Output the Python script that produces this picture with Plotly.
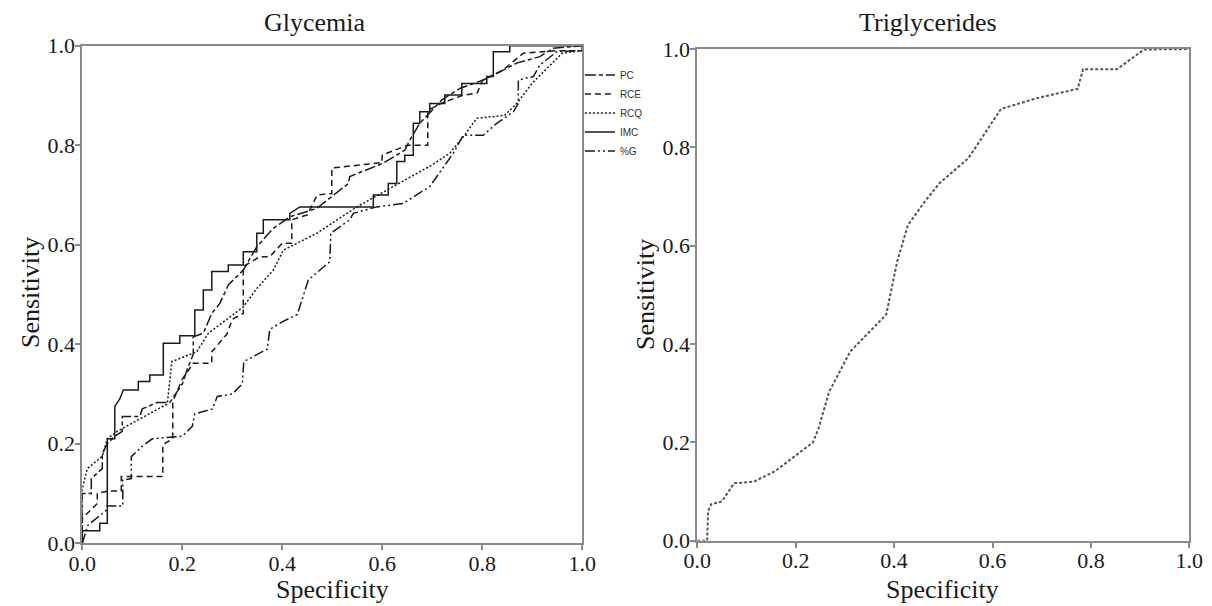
import plotly.graph_objects as go

# ROC curves (x = specificity axis, y = sensitivity)
PC_X = [0, 0, 0.018, 0.018, 0.04, 0.04, 0.05, 0.065, 0.08, 0.08, 0.115, 0.12, 0.15, 0.175,
        0.2, 0.21, 0.222, 0.222, 0.242, 0.259, 0.275, 0.292, 0.322, 0.349, 0.382, 0.415,
        0.469, 0.532, 0.535, 0.602, 0.645, 0.655, 0.675, 0.719, 0.755, 0.802, 0.842, 0.869,
        0.915, 0.942, 1.0]
PC_Y = [0, 0.10, 0.10, 0.13, 0.15, 0.18, 0.20, 0.215, 0.225, 0.255, 0.255, 0.27, 0.283, 0.283,
        0.32, 0.35, 0.38, 0.415, 0.422, 0.462, 0.482, 0.519, 0.549, 0.596, 0.633, 0.656,
        0.673, 0.723, 0.737, 0.764, 0.79, 0.81, 0.844, 0.891, 0.914, 0.931, 0.951, 0.965,
        0.978, 0.995, 1.0]

RCE_X = [0, 0, 0.03, 0.03, 0.051, 0.078, 0.078, 0.161, 0.161, 0.181, 0.181, 0.2, 0.222, 0.259,
         0.259, 0.289, 0.3, 0.322, 0.322, 0.355, 0.375, 0.4, 0.419, 0.419, 0.45, 0.47, 0.499,
         0.499, 0.599, 0.6, 0.65, 0.691, 0.691, 0.72, 0.76, 0.79, 0.80, 0.84, 0.882, 0.95,
         1.0, 1.0]
RCE_Y = [0, 0.05, 0.08, 0.10, 0.105, 0.105, 0.134, 0.134, 0.198, 0.21, 0.285, 0.33, 0.362, 0.362,
         0.385, 0.42, 0.45, 0.462, 0.556, 0.576, 0.576, 0.603, 0.603, 0.65, 0.66, 0.70, 0.703,
         0.754, 0.765, 0.78, 0.80, 0.80, 0.87, 0.885, 0.90, 0.905, 0.93, 0.95, 0.985, 0.99,
         0.99, 1.0]

RCQ_X = [0, 0, 0.01, 0.04, 0.05, 0.07, 0.17, 0.179, 0.229, 0.252, 0.322, 0.349, 0.382, 0.402,
         0.469, 0.549, 0.622, 0.699, 0.735, 0.762, 0.789, 0.845, 0.87, 0.9, 0.93, 0.96, 1.0, 1.0]
RCQ_Y = [0, 0.11, 0.15, 0.175, 0.21, 0.225, 0.28, 0.365, 0.385, 0.422, 0.475, 0.512, 0.549, 0.589,
         0.623, 0.676, 0.717, 0.76, 0.784, 0.817, 0.854, 0.86, 0.885, 0.925, 0.955, 0.985, 0.99, 1.0]

IMC_X = [0, 0, 0.035, 0.035, 0.05, 0.05, 0.065, 0.065, 0.075, 0.082,
         0.112, 0.112, 0.135, 0.135, 0.162, 0.162, 0.195, 0.195, 0.225, 0.225,
         0.242, 0.242, 0.259, 0.259, 0.292, 0.292, 0.322, 0.322, 0.349, 0.349,
         0.362, 0.362, 0.415, 0.415, 0.435, 0.582, 0.582, 0.612, 0.612, 0.629,
         0.629, 0.645, 0.645, 0.662, 0.662, 0.675, 0.675, 0.695, 0.695, 0.725,
         0.725, 0.759, 0.759, 0.809, 0.809, 0.822, 0.822, 0.855, 0.855, 1.0]
IMC_Y = [0, 0.025, 0.025, 0.04, 0.04, 0.21, 0.21, 0.275, 0.29, 0.308,
         0.308, 0.325, 0.325, 0.338, 0.338, 0.402, 0.402, 0.417, 0.417, 0.469,
         0.469, 0.509, 0.509, 0.546, 0.546, 0.559, 0.559, 0.586, 0.586, 0.623,
         0.623, 0.65, 0.65, 0.663, 0.676, 0.676, 0.70, 0.70, 0.723, 0.723,
         0.767, 0.767, 0.78, 0.78, 0.844, 0.844, 0.867, 0.867, 0.884, 0.884,
         0.901, 0.901, 0.924, 0.924, 0.938, 0.938, 0.988, 0.988, 1.0, 1.0]

G_X = [0, 0.011, 0.048, 0.05, 0.081, 0.081, 0.098, 0.098, 0.12, 0.14, 0.2, 0.22, 0.225, 0.26,
       0.27, 0.3, 0.32, 0.323, 0.36, 0.37, 0.375, 0.4, 0.43, 0.44, 0.452, 0.495, 0.497, 0.535,
       0.542, 0.589, 0.642, 0.695, 0.722, 0.742, 0.762, 0.802, 0.829, 0.862, 0.872, 0.872,
       0.902, 0.915, 0.949, 1.0, 1.0]
G_Y = [0, 0.036, 0.066, 0.075, 0.075, 0.127, 0.13, 0.174, 0.195, 0.21, 0.215, 0.235, 0.26, 0.27,
       0.295, 0.30, 0.32, 0.365, 0.385, 0.39, 0.43, 0.445, 0.46, 0.49, 0.529, 0.566, 0.623, 0.65,
       0.663, 0.676, 0.683, 0.717, 0.757, 0.784, 0.82, 0.82, 0.844, 0.867, 0.884, 0.931,
       0.938, 0.961, 0.988, 0.99, 1.0]

TG_X = [0, 0.02, 0.022, 0.028, 0.05, 0.075, 0.093, 0.115, 0.159, 0.195, 0.235, 0.246, 0.268,
        0.279, 0.311, 0.384, 0.406, 0.428, 0.464, 0.493, 0.551, 0.617, 0.653, 0.69, 0.773,
        0.784, 0.853, 0.908, 1.0]
TG_Y = [0, 0, 0.06, 0.074, 0.08, 0.117, 0.118, 0.12, 0.142, 0.17, 0.2, 0.227, 0.303,
        0.324, 0.385, 0.46, 0.567, 0.642, 0.692, 0.728, 0.778, 0.878, 0.889, 0.9, 0.919,
        0.959, 0.959, 0.999, 1.0]

TICKS = [0, 0.2, 0.4, 0.6, 0.8, 1.0]
TICK_TEXT = ["0.0", "0.2", "0.4", "0.6", "0.8", "1.0"]

SERIF = "Liberation Serif, Times New Roman, serif"
INK = "#1a1a1a"
FRAME = "#8a8a8a"

# the page body keeps its default 8px margin, so the figure is drawn 8px in
W, H = 1204, 598

fig = go.Figure()

glyc = [
    ("PC", PC_X, PC_Y, "11px,3px,4px,3px"),
    ("RCE", RCE_X, RCE_Y, "6px,4px"),
    ("RCQ", RCQ_X, RCQ_Y, "2px,2px"),
    ("IMC", IMC_X, IMC_Y, "solid"),
    ("%G", G_X, G_Y, "10px,3px,2px,3px,2px,3px"),
]
for name, xs, ys, dash in glyc:
    fig.add_trace(go.Scatter(x=xs, y=ys, name=name, mode="lines",
                             line=dict(color=INK, width=1.5, dash=dash),
                             xaxis="x", yaxis="y"))

fig.add_trace(go.Scatter(x=TG_X, y=TG_Y, name="Triglycerides", mode="lines",
                         line=dict(color="#555555", width=2, dash="3px,2px"),
                         showlegend=False, xaxis="x2", yaxis="y2"))

axis_style = dict(range=[0, 1], tickvals=TICKS, ticktext=TICK_TEXT,
                  ticks="outside", ticklen=5, tickwidth=1.5, tickcolor=FRAME,
                  showline=True, linecolor=FRAME, linewidth=2, mirror=True,
                  showgrid=False, zeroline=False, automargin=False,
                  tickfont=dict(family=SERIF, size=22, color=INK))
x_style = dict(axis_style, ticklabelstandoff=-6)
y_style = dict(axis_style, ticklabelstandoff=-4)

fig.update_layout(
    width=W, height=H,
    margin=dict(l=0, r=0, t=0, b=0, autoexpand=False),
    paper_bgcolor="white", plot_bgcolor="white",
    xaxis=dict(domain=[0.0617, 0.4770], anchor="y", **x_style),
    yaxis=dict(domain=[0.1049, 0.9370], anchor="x", **y_style),
    xaxis2=dict(domain=[0.5725, 0.9812], anchor="y2", **x_style),
    yaxis2=dict(domain=[0.1092, 0.9314], anchor="x2", **y_style),
    showlegend=True,
    legend=dict(x=0.475, y=0.8244, xanchor="left", yanchor="middle",
                bgcolor="rgba(0,0,0,0)", itemwidth=30,
                font=dict(family="Liberation Sans, Arial, sans-serif", size=10, color="#333333")),
)

title_font = dict(family=SERIF, size=26, color=INK)
annos = [
    dict(text="Glycemia", x=307 / W, y=1 - 15 / H),
    dict(text="Triglycerides", x=920 / W, y=1 - 15 / H),
    dict(text="Specificity", x=324 / W, y=1 - 581 / H),
    dict(text="Specificity", x=935 / W, y=1 - 581 / H),
    dict(text="Sensitivity", x=22 / W, y=1 - 285 / H, textangle=-90),
    dict(text="Sensitivity", x=637 / W, y=1 - 287 / H, textangle=-90),
]
for a in annos:
    fig.add_annotation(showarrow=False, font=title_font, xref="paper", yref="paper",
                       xanchor="center", yanchor="middle", **a)

fig.write_html("out.html")
